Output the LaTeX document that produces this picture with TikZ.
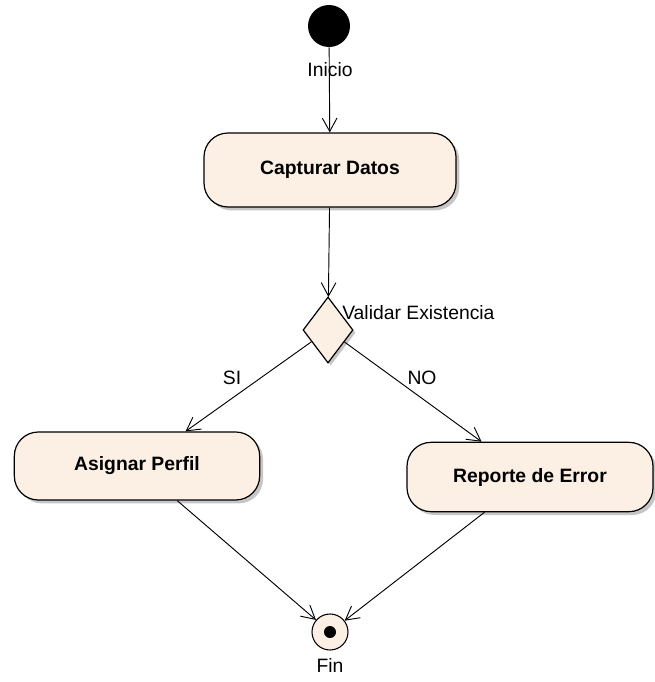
\documentclass[tikz,border=0pt]{standalone}
\usepackage{fontspec}
\setmainfont{Liberation Sans}
\usetikzlibrary{positioning, shapes.geometric, arrows.meta, shadows}
\definecolor{actfill}{RGB}{251,240,227}
\begin{document}
\begin{tikzpicture}[
				x=0.75pt, y=-0.75pt,
				font=\fontsize{14.5}{17}\selectfont,
				activity/.style={rectangle, rounded corners=18pt, draw, line width=0.9pt, fill=actfill,
					font=\fontsize{14.5}{17}\selectfont\bfseries,
					drop shadow={shadow xshift=2.5pt, shadow yshift=-2.5pt, opacity=0.45}},
				flow/.style={-{Straight Barb[length=10pt, width=11pt]}, line width=0.7pt}]
				\useasboundingbox (0,0) rectangle (654,682);
				\node (inicio) at (329,26) [circle, fill=black, minimum size=31.5pt, inner sep=0pt] {};
				\node (capturar) at (330,170) [activity, minimum width=189pt, minimum height=55.5pt] {Capturar Datos};
				\node (validar) at (328,330) [diamond, draw, line width=0.9pt, fill=actfill, inner sep=0pt,
					minimum width=37.5pt, minimum height=49.5pt,
					drop shadow={shadow xshift=2pt, shadow yshift=-2pt, opacity=0.45}] {};
				\node (asignar) at (137,466) [activity, minimum width=184pt, minimum height=51pt] {Asignar Perfil};
				\node (reporte) at (530,477) [activity, minimum width=184.5pt, minimum height=52pt] {Reporte de Error};
				\node (fin) at (330,632) [circle, draw, line width=0.8pt, fill=actfill, minimum size=27pt, inner sep=0pt] {};
				\node (finpunto) at (fin) [circle, fill=black, minimum size=9pt, inner sep=0pt] {};
				\draw[flow] (inicio) -- (capturar);
				\draw[flow] (capturar) -- (validar);
				\draw[flow] (validar) -- (asignar);
				\draw[flow] (validar) -- (reporte);
				\draw[flow] (asignar) -- (fin);
				\draw[flow] (reporte) -- (fin);
				\node (lblinicio) at (330,70) {Inicio};
				\node (lblvalidar) at (342,313) [anchor=west, inner sep=0pt] {Validar Existencia};
				\node (lblsi) at (232,378) {SI};
				\node (lblno) at (422,378) {NO};
				\node (lblfin) at (330,665) {Fin};
			\end{tikzpicture}
\end{document}
